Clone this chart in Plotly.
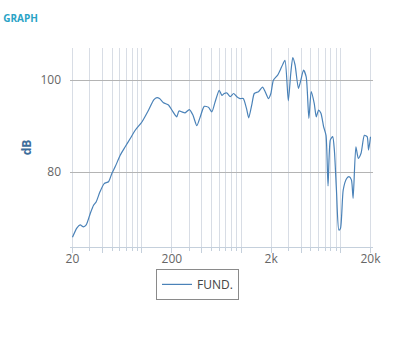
import numpy as np
import plotly.graph_objects as go

freq = [20, 22.1, 23.9, 25.8, 27.5, 30.2, 32.6, 34.6, 37.8, 41.7, 46.1, 49.8, 53.9, 60.6, 67.9,
        76.3, 85.6, 100, 116.8, 131.5, 141.8, 150.4, 165, 185, 200, 216, 224, 236, 252, 272,
        300, 326, 357, 386, 424, 467, 506, 546, 600, 638, 674, 718, 775, 837, 903, 973,
        1047, 1130, 1188, 1283, 1352, 1491, 1636, 1741, 1879, 1986, 2105, 2324, 2551, 2753,
        2976, 3150, 3300, 3480, 3760, 3977, 4233, 4505, 4793, 5060, 5430, 5690, 6000, 6340,
        6740, 7130, 7470, 7880, 8320, 8650, 9080, 9600, 9980, 10620, 11500, 12140, 12850,
        13360, 14250, 15070, 16060, 17360, 18500, 19110, 20000]
db = [65.8, 67.8, 68.5, 68.1, 68.5, 71.0, 72.8, 73.5, 75.7, 77.5, 77.9, 79.7, 81.2, 83.7, 85.5,
      87.3, 89.1, 90.9, 93.5, 95.7, 96.2, 96.0, 95.1, 94.6, 93.5, 92.4, 92.0, 93.3, 93.1, 92.9,
      93.6, 92.4, 90.1, 92.0, 94.3, 94.1, 93.1, 95.3, 97.8, 96.7, 97.1, 97.2, 96.4, 97.1, 96.4, 96.0,
      96.0, 93.8, 91.8, 94.9, 97.1, 97.5, 98.5, 97.5, 96.0, 97.1, 100.0, 101.1, 102.9, 104.3,
      95.5, 101.5, 104.9, 103.3, 98.2, 100.0, 102.2, 100.7, 91.7, 97.5, 94.9, 92.0, 93.5, 92.8,
      89.9, 88.0, 77.0, 87.0, 87.7, 84.8, 76.1, 67.4, 67.8, 76.1, 78.6, 79.0, 78.3,
      74.3, 85.5, 83.0, 84.1, 88.0, 87.7, 84.8, 87.7]

major_ticks = [20, 40, 100, 200, 400, 1000, 2000, 4000, 10000, 20000]
tick_labels = ["20", "", "", "200", "", "", "2k", "", "", "20k"]
grid_vals = [d * m for m in (10, 100, 1000, 10000) for d in range(1, 10)]
grid_vals = [v for v in grid_vals if 20 <= v <= 20000]
minor_vals = [v for v in grid_vals if v not in major_ticks]
y_ticks = [80, 100]

fig = go.Figure()
fig.add_trace(go.Scatter(x=freq, y=db, mode="lines", name="FUND.",
                         line=dict(color="#4a82b8", width=1.2, shape="spline", smoothing=0.6)))

fig.update_layout(
    width=409, height=347,
    margin=dict(l=70, r=36, t=48, b=100),
    paper_bgcolor="white", plot_bgcolor="white",
    font=dict(family="Open Sans", color="#666666", size=12),
    title=dict(text="GRAPH", x=0.008, xanchor="left", y=1 - 18 / 347, yanchor="middle",
               xref="container", yref="container",
               font=dict(size=10, color="#2aa3c6", family="Open Sans", weight="bold")),
    showlegend=True,
    legend=dict(x=(156 - 70) / 303, xanchor="left", y=-0.11, yanchor="top",
                bordercolor="#8a8a8a", borderwidth=1, bgcolor="white",
                font=dict(size=12, color="#444444")),
    xaxis=dict(type="log",
               range=[np.log10(20) - 0.025, np.log10(20000) + 0.025],
               tickmode="array", tickvals=major_ticks, ticktext=tick_labels,
               showgrid=True, gridcolor="#d8dde5", gridwidth=1,
               ticks="outside", ticklen=5, tickcolor="#c5d0dc",
               ticklabelstandoff=-4,
               showline=True, linecolor="#c5d0dc", linewidth=1,
               zeroline=False,
               minor=dict(tickmode="array", tickvals=minor_vals, showgrid=True,
                          gridcolor="#d8dde5", gridwidth=1, ticks="outside",
                          ticklen=3, tickcolor="#c5d0dc"),
               tickfont=dict(size=12, color="#666666")),
    yaxis=dict(range=[63.7, 107], tickmode="array", tickvals=y_ticks,
               showgrid=True, gridcolor="#b4b4b4", gridwidth=1,
               zeroline=False, ticks="", ticklabelstandoff=8,
               title=dict(text="dB", standoff=6,
                          font=dict(size=12, color="#3d6d9b", weight="bold")),
               tickfont=dict(size=12, color="#666666")),
)

fig.write_html("out.html")
